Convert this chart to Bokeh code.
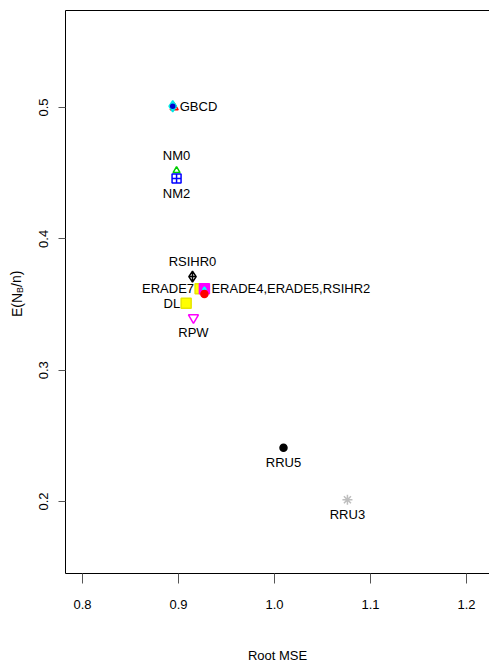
from bokeh.core.properties import value
from bokeh.embed import file_html
from bokeh.layouts import row
from bokeh.models import FixedTicker, LinearAxis, Range1d
from bokeh.plotting import figure
from bokeh.resources import INLINE

# Root MSE against expected proportion of patients on treatment B, per design
root_mse = [0.8955, 0.894, 0.894, 0.898, 0.898, 0.9146, 0.9225, 0.927, 0.927, 0.927, 0.908, 0.9156, 1.0094, 1.076]
e_nb = [0.5000, 0.501, 0.501, 0.452, 0.446, 0.3713, 0.362, 0.362, 0.3615, 0.358, 0.351, 0.340, 0.241, 0.2014]

# marker styling for each point
point_marker = ["triangle", "diamond", "circle", "triangle", "square_cross", "diamond_cross", "square",
                "square", "diamond", "circle", "square", "inverted_triangle", "circle", "asterisk"]
point_line = ["#ff0000", "#00e5e5", "#0000cd", "#00cd00", "#0000ff", "#000000", "#e6e600",
              "#ff00ff", "#00ffff", "#ff0000", "#e6e600", "#ff00ff", "#000000", "#bebebe"]
point_fill = [None, "#00ffff", "#0000cd", None, None, None, "#ffff00",
              "#ff00ff", "#00ffff", "#ff0000", "#ffff00", None, "#000000", None]
point_size = [8, 11, 4, 7, 9, 11, 10, 10, 5, 7, 10, 10, 7, 10]

# text labels: which point they describe and on which side they sit
label_text = ["GBCD", "NM0", "NM2", "RSIHR0", "ERADE7", "ERADE4,ERADE5,RSIHR2", "DL", "RPW", "RRU5", "RRU3"]
label_point = [1, 3, 4, 5, 6, 7, 10, 11, 12, 13]
label_side = ["right", "above", "below", "above", "left", "right", "left", "below", "below", "below"]

x_ticks = [0.8, 0.9, 1.0, 1.1, 1.2]
y_ticks = [0.2, 0.3, 0.4, 0.5]

FONT = "Liberation Sans"
FS = "13px"

x0, x1 = 0.7823, 1.224
y0, y1 = 0.1452, 0.5739

TITLE_W = 30
p = figure(width=489 - TITLE_W, height=668, output_backend="svg", toolbar_location=None,
           x_range=Range1d(x0, x1), y_range=Range1d(y0, y1),
           min_border_left=65 - TITLE_W, min_border_right=0, min_border_top=10, min_border_bottom=95,
           x_axis_location=None, y_axis_location=None)
p.grid.visible = False
p.outline_line_color = None
p.background_fill_color = "white"
p.border_fill_color = "white"

xaxis = LinearAxis(ticker=FixedTicker(ticks=x_ticks), axis_label="Root MSE")
xaxis.major_label_overrides = {t: f"{t:.1f}" for t in x_ticks}
yaxis = LinearAxis(ticker=FixedTicker(ticks=y_ticks))
yaxis.major_label_orientation = "vertical"
top = LinearAxis(ticker=FixedTicker(ticks=[]))

for ax in (xaxis, yaxis, top):
    ax.axis_line_color = "#000000"
    ax.axis_line_width = 1
    ax.major_tick_line_color = "#555555"
    ax.major_tick_in = 0
    ax.minor_tick_line_color = None
    ax.major_label_text_font = FONT
    ax.major_label_text_font_size = FS
    ax.major_label_text_color = "#000000"
    ax.axis_label_text_font = FONT
    ax.axis_label_text_font_size = FS
    ax.axis_label_text_font_style = "normal"
    ax.axis_label_text_color = "#000000"

xaxis.major_tick_out = 10
xaxis.major_label_standoff = 16
xaxis.axis_label_standoff = 36
yaxis.major_tick_out = 7
yaxis.major_label_standoff = 10
top.major_tick_out = 0
top.major_label_text_font_size = "0px"

p.add_layout(xaxis, "below")
p.add_layout(yaxis, "left")
p.add_layout(top, "above")

# points
for i in range(len(root_mse)):
    p.scatter([root_mse[i]], [e_nb[i]], marker=point_marker[i], size=point_size[i],
              line_color=point_line[i], fill_color=point_fill[i], line_width=1.5)

# point labels
side_style = {
    "right": dict(x_offset=7, y_offset=0, text_align="left"),
    "left": dict(x_offset=-6, y_offset=0, text_align="right"),
    "above": dict(x_offset=0, y_offset=-15, text_align="center"),
    "below": dict(x_offset=0, y_offset=15, text_align="center"),
}
for side, style in side_style.items():
    idx = [k for k, s in enumerate(label_side) if s == side]
    p.text(x=[root_mse[label_point[k]] for k in idx],
           y=[e_nb[label_point[k]] for k in idx],
           text=[label_text[k] for k in idx],
           text_font=value(FONT), text_font_size=FS, text_color="#000000",
           text_baseline="middle", **style)

# narrow strip on the left holding the rotated title E(N_B/n)
t = figure(width=TITLE_W, height=668, output_backend="svg", toolbar_location=None,
           x_range=Range1d(0, TITLE_W), y_range=Range1d(y0, y1),
           min_border_left=0, min_border_right=0, min_border_top=10, min_border_bottom=95,
           x_axis_location=None, y_axis_location=None)
t.grid.visible = False
t.outline_line_color = None
t.border_fill_color = "white"
t.background_fill_color = "white"

px_y = (y1 - y0) / 563.0
mid_y = (y0 + y1) / 2
t.text(x=[16], y=[mid_y - 1 * px_y], text=["E(N"], angle=1.5708,
       text_font=value(FONT), text_font_size="14px", text_color="#000000",
       text_align="right", text_baseline="alphabetic")
t.text(x=[19], y=[mid_y + 2 * px_y], text=["B"], angle=1.5708,
       text_font=value(FONT), text_font_size="9px", text_color="#000000",
       text_align="center", text_baseline="alphabetic")
t.text(x=[16], y=[mid_y + 5 * px_y], text=["/n)"], angle=1.5708,
       text_font=value(FONT), text_font_size="14px", text_color="#000000",
       text_align="left", text_baseline="alphabetic")

layout = row(t, p, spacing=0)
open("out.html", "w").write(file_html(layout, INLINE))
